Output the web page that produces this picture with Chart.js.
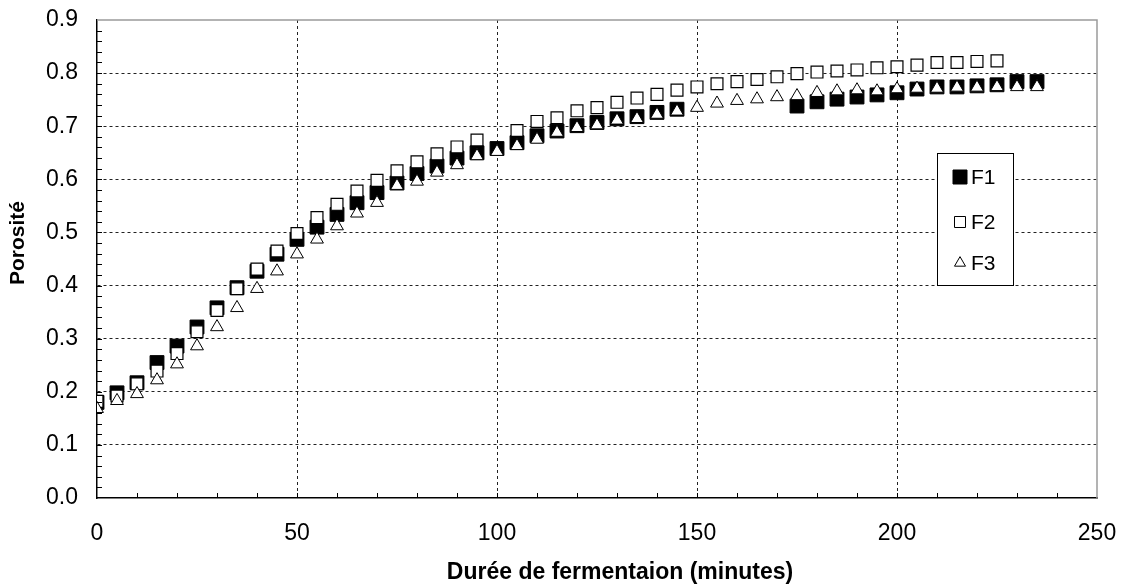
<!doctype html>
<html>
<head>
<meta http-equiv="Content-Type" content="text/html;charset=utf-8" />
<title>Porosité - fermentation</title>
<script src="https://cdn.jsdelivr.net/npm/chart.js@4"></script>
<style>
html, body { margin: 0; padding: 0; background: #fff; }
#wrap { width: 1123px; height: 586px; }
</style>
</head>
<body>
<div id="wrap"><canvas id="myChart" width="1123" height="586"></canvas></div>

<script type="text/javascript">
// durée de fermentation (minutes)
var minutes = [0,5,10,15,20,25,30,35,40,45,50,55,60,65,70,75,80,85,90,95,
  100,105,110,115,120,125,130,135,140,145,150,155,160,165,170,175,180,185,190,195,
  200,205,210,215,220,225,230,235];

// porosité (null = pas de point)
var f1 = [0.180,0.198,0.217,0.255,0.286,0.322,0.358,0.396,0.427,0.459,0.487,0.510,0.534,0.556,0.575,0.593,0.611,0.625,0.640,0.650,
  0.658,0.669,0.682,0.691,0.701,0.707,0.714,0.718,0.726,0.732,null,null,null,null,null,0.738,0.746,0.751,0.755,0.759,
  0.763,0.770,0.774,0.774,0.776,0.778,0.784,0.784];
var f2 = [0.182,0.192,0.215,0.239,0.272,0.313,0.353,0.394,0.431,0.465,0.498,0.528,0.553,0.578,0.598,0.616,0.633,0.648,0.661,0.674,
  null,0.692,0.709,0.716,0.729,0.735,0.745,0.753,0.760,0.768,0.774,0.780,0.784,0.788,0.793,0.799,0.802,0.804,0.806,0.810,
  0.812,0.815,0.820,0.820,0.822,0.823];
var f3 = [0.168,0.183,0.196,0.222,0.252,0.286,0.322,0.358,0.394,0.427,0.459,0.487,0.512,0.536,0.556,0.588,0.596,0.613,0.627,0.644,
  0.652,0.663,0.675,0.688,0.697,0.702,0.711,0.714,0.722,0.728,0.735,0.743,0.748,0.751,0.755,0.757,0.763,0.766,0.768,0.766,
  0.770,0.771,0.771,0.773,0.773,0.774,0.774,0.774];

var xTitle = 'Durée de fermentaion (minutes)';
var yTitle = 'Porosité';

function toXY(vals) {
  var out = [];
  for (var i = 0; i < vals.length; i++) {
    out.push({ x: minutes[i], y: vals[i] });
  }
  return out;
}

var FONT = '"Liberation Sans", Arial, sans-serif';

// cadre gris, petites graduations, titres des axes et légende
var extras = {
  id: 'extras',
  afterDraw: function(chart) {
    var ctx = chart.ctx, a = chart.chartArea;
    var xs = chart.scales.x, ys = chart.scales.y;
    ctx.save();
    // top / right frame
    ctx.strokeStyle = '#9a9a9a';
    ctx.lineWidth = 1.5;
    ctx.beginPath();
    ctx.moveTo(a.left, a.top);
    ctx.lineTo(a.right, a.top);
    ctx.lineTo(a.right, a.bottom);
    ctx.stroke();

    // minor ticks inside
    ctx.strokeStyle = '#000';
    ctx.lineWidth = 1;
    ctx.beginPath();
    for (var v = 0.02; v < 0.9; v += 0.02) {
      var py = Math.round(ys.getPixelForValue(v)) + 0.5;
      ctx.moveTo(a.left, py);
      ctx.lineTo(a.left + 5, py);
    }
    for (var m = 10; m < 250; m += 10) {
      var px = Math.round(xs.getPixelForValue(m)) + 0.5;
      ctx.moveTo(px, a.bottom);
      ctx.lineTo(px, a.bottom - 5);
    }
    ctx.stroke();

    // axis titles
    ctx.fillStyle = '#000';
    ctx.font = 'bold 23px ' + FONT;
    ctx.textAlign = 'center';
    ctx.textBaseline = 'middle';
    ctx.fillText(xTitle, 620, 573);
    ctx.font = 'bold 21px ' + FONT;
    ctx.translate(18, 243);
    ctx.rotate(-Math.PI / 2);
    ctx.fillText(yTitle, 0, 0);
    ctx.restore();

    // legend
    ctx.save();
    ctx.fillStyle = '#fff';
    ctx.fillRect(937, 153, 76, 132);
    ctx.strokeStyle = '#000';
    ctx.lineWidth = 1;
    ctx.strokeRect(937.5, 153.5, 76, 132);
    var rows = [177, 222, 263];
    var sizes = [7, 5.5, 6];
    chart.data.datasets.forEach(function(ds, i) {
      ctx.fillStyle = ds.backgroundColor;
      ctx.strokeStyle = ds.borderColor;
      ctx.lineWidth = 1;
      Chart.helpers.drawPoint(ctx, { pointStyle: ds.pointStyle, radius: sizes[i] / Math.SQRT1_2 * (ds.pointStyle === 'rect' ? 1 : 0.75), rotation: 0, borderWidth: 1 }, 960, rows[i]);
      ctx.fillStyle = '#000';
      ctx.font = '21px ' + FONT;
      ctx.textAlign = 'left';
      ctx.textBaseline = 'middle';
      ctx.fillText(ds.label, 971, rows[i] + 1);
    });
    ctx.restore();
  }
};

var gridColor = function(c) {
  var v = c.tick ? c.tick.value : 0;
  if (c.scale.axis === 'x') return (v > 0 && v < 250) ? '#222' : 'rgba(0,0,0,0)';
  return (v > 0.001 && v < 0.899) ? '#222' : 'rgba(0,0,0,0)';
};

var ctx = document.getElementById('myChart').getContext('2d');
var chart = new Chart(ctx, {
  type: 'scatter',
  data: {
    datasets: [
      { label: 'F1', data: toXY(f1), pointStyle: 'rect', pointRadius: 9.8, backgroundColor: '#000', borderColor: '#000', borderWidth: 1, order: 3 },
      { label: 'F2', data: toXY(f2), pointStyle: 'rect', pointRadius: 8.4, backgroundColor: '#fff', borderColor: '#000', borderWidth: 1.2, order: 2 },
      { label: 'F3', data: toXY(f3), pointStyle: 'triangle', pointRadius: 7.4, backgroundColor: '#fff', borderColor: '#000', borderWidth: 1, order: 1 }
    ]
  },
  options: {
    responsive: false,
    animation: false,
    devicePixelRatio: 1,
    layout: { padding: { left: 0, right: 26, top: 20, bottom: 0 } },
    plugins: { legend: { display: false }, tooltip: { enabled: false } },
    scales: {
      x: {
        type: 'linear', min: 0, max: 250,
        ticks: { stepSize: 50, padding: 22, color: '#000', font: { family: FONT, size: 23 } },
        grid: { color: gridColor, drawTicks: false, lineWidth: 1 },
        border: { display: true, color: '#000', width: 1.5, dash: [3, 3] },
        afterFit: function(s) { s.height = 88; s.paddingLeft = 0; s.paddingRight = 0; }
      },
      y: {
        min: 0, max: 0.9,
        ticks: { stepSize: 0.1, padding: 19, color: '#000', font: { family: FONT, size: 23 },
          callback: function(v) { return Number(v).toFixed(1); } },
        grid: { color: gridColor, drawTicks: false, lineWidth: 1 },
        border: { display: true, color: '#000', width: 1.5, dash: [3, 3] },
        afterFit: function(s) { s.width = 97; s.paddingTop = 0; s.paddingBottom = 0; }
      }
    }
  },
  plugins: [extras]
});
</script>
</body>
</html>
